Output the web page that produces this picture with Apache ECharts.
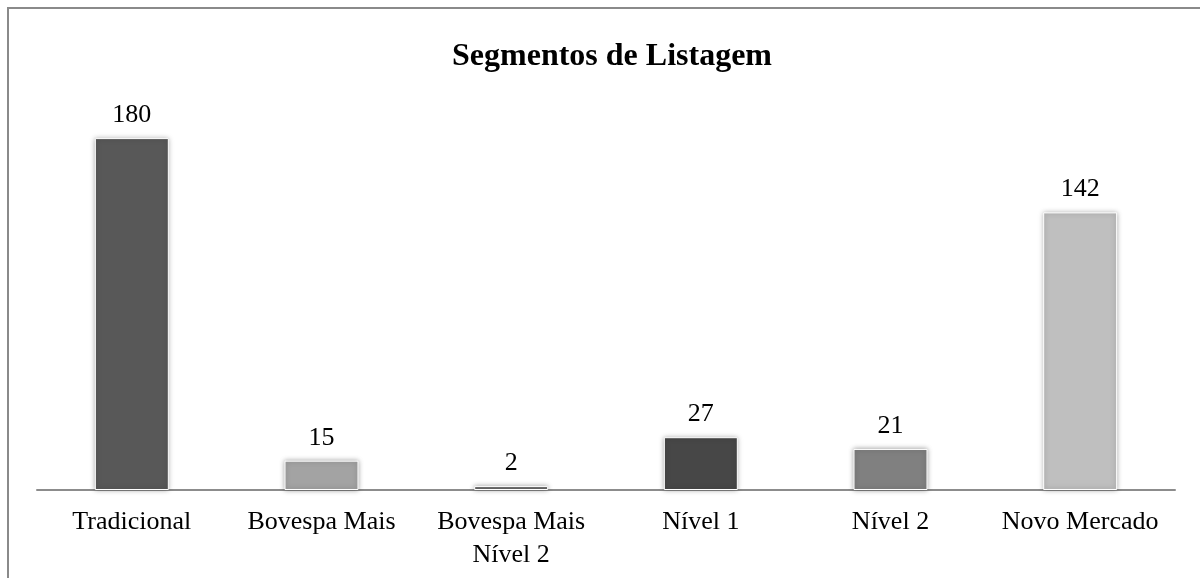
<!DOCTYPE html>
<html>
<head>
<meta charset="utf-8">
<script src="https://cdn.jsdelivr.net/npm/echarts@6/dist/echarts.min.js"></script>
<style>
html,body{margin:0;padding:0;background:#fff;}
#chart{width:1200px;height:578px;}
</style>
</head>
<body>
<div id="chart"></div>
<script>
const chartTitle = 'Segmentos de Listagem';
const categories = ['Tradicional', 'Bovespa Mais', 'Bovespa Mais\nNível 2', 'Nível 1', 'Nível 2', 'Novo Mercado'];
const values = [180, 15, 2, 27, 21, 142];
const barColors = ['#585858', '#a3a3a3', '#6a6a6a', '#474747', '#808080', '#bfbfbf'];

const FONT = '"Liberation Serif", "DejaVu Serif", serif';
const chart = echarts.init(document.getElementById('chart'));
chart.setOption({
  animation: false,
  backgroundColor: '#ffffff',
  title: {
    text: chartTitle,
    left: 607, top: 52, textAlign: 'center', textVerticalAlign: 'middle',
    textStyle: { fontFamily: FONT, fontSize: 32, fontWeight: 'bold', color: '#000' }
  },
  graphic: [{
    type: 'rect', silent: true,
    shape: { x: 8, y: 8, width: 1400, height: 800 },
    style: { fill: 'none', stroke: '#8a8a8a', lineWidth: 2 }
  }],
  grid: { left: 37, right: 25, top: 99, bottom: 88, containLabel: false },
  xAxis: {
    type: 'category',
    data: categories,
    axisLine: { lineStyle: { color: '#8c8c8c', width: 2 } },
    axisTick: { show: false },
    axisLabel: {
      fontFamily: FONT, fontSize: 26, color: '#000', margin: 16, lineHeight: 33, interval: 0
    }
  },
  yAxis: {
    type: 'value', min: 0, max: 200, show: false,
    splitLine: { show: false }
  },
  series: [{
    type: 'bar',
    data: values.map((v, i) => ({ value: v, itemStyle: { color: barColors[i] } })),
    barWidth: '39%',
    itemStyle: {
      borderColor: '#ffffff', borderWidth: 1,
      shadowBlur: 5, shadowColor: 'rgba(0,0,0,0.35)', shadowOffsetX: 0, shadowOffsetY: 0
    },
    label: {
      show: true, position: 'top', distance: 10,
      fontFamily: FONT, fontSize: 26, color: '#000'
    }
  }]
});
</script>
</body>
</html>
